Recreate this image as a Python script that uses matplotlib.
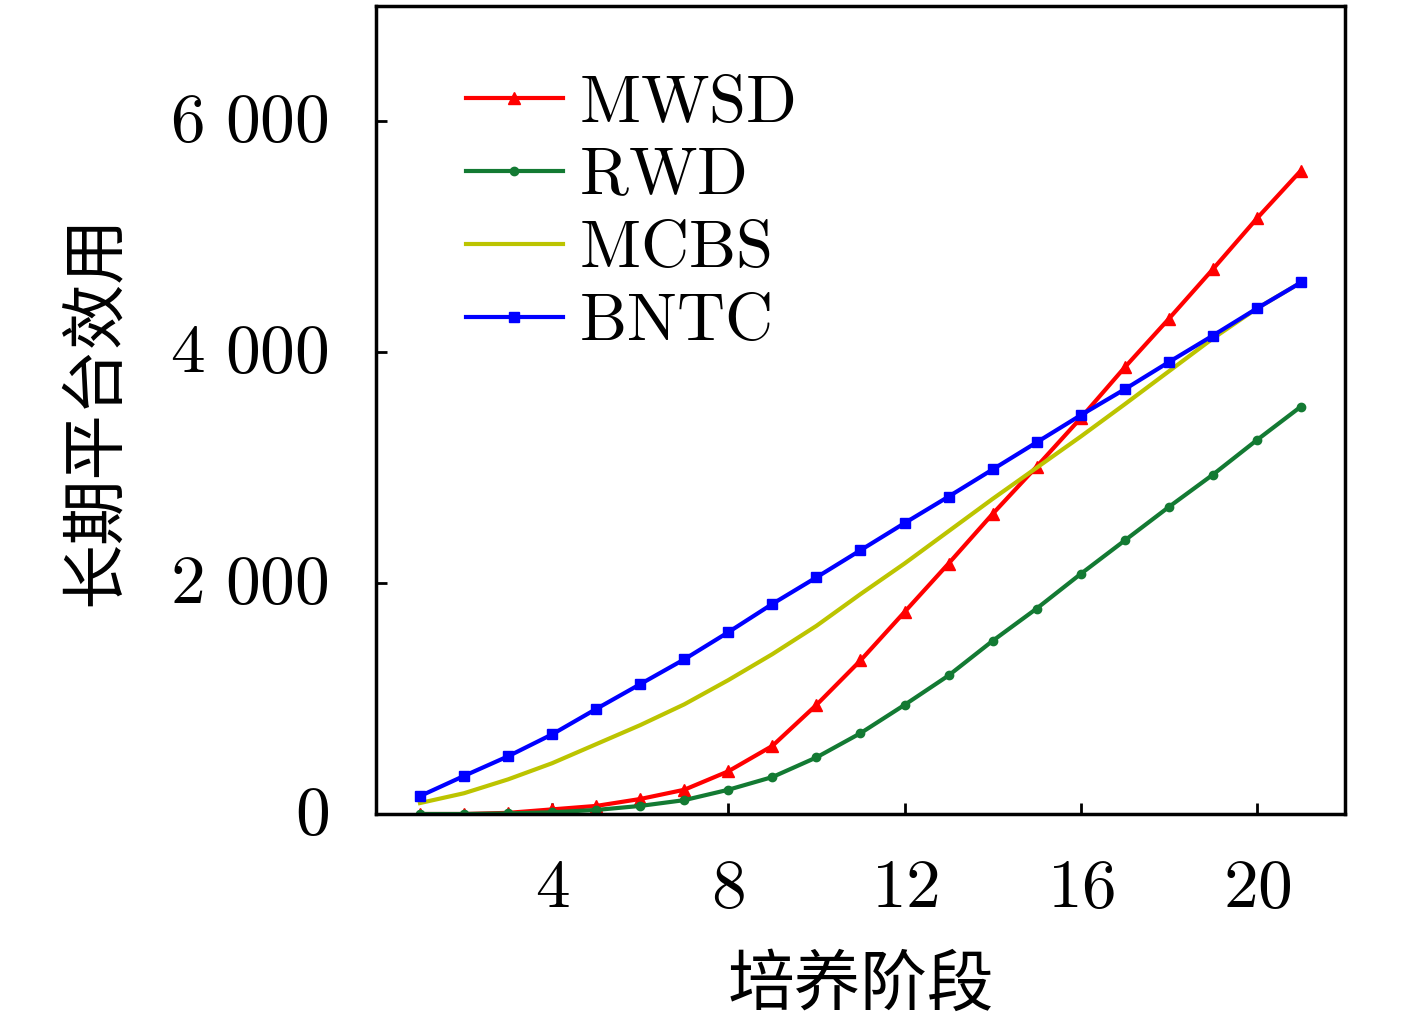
import matplotlib
matplotlib.use("Agg")
import matplotlib.pyplot as plt
import matplotlib.transforms as mtransforms

plt.rcParams['mathtext.fontset'] = 'cm'
plt.rcParams['font.family'] = ['Noto Sans CJK SC', 'DejaVu Sans']

# stages 1..21
stage = list(range(1, 22))

mwsd = [0, 0, 10, 40, 70, 130, 210, 370, 590, 945, 1330, 1750, 2170, 2600,
        3010, 3430, 3870, 4290, 4720, 5160, 5575]
rwd = [0, 0, 5, 15, 35, 70, 120, 210, 320, 490, 700, 945, 1200, 1500,
       1780, 2080, 2370, 2660, 2940, 3240, 3530]
mcbs = [95, 180, 300, 440, 605, 770, 950, 1160, 1385, 1630, 1905, 2170, 2450,
        2730, 3000, 3270, 3550, 3835, 4120, 4380, 4605]
bntc = [155, 330, 500, 690, 910, 1125, 1340, 1575, 1820, 2050, 2285, 2520,
        2750, 2985, 3220, 3455, 3680, 3915, 4145, 4380, 4605]

xticks = [4, 8, 12, 16, 20]
yticks = [0, 2000, 4000, 6000]
ytick_labels = [r'$0$', r'$2\ 000$', r'$4\ 000$', r'$6\ 000$']

fig = plt.figure(figsize=(14.17, 10.23), dpi=100)
ax = fig.add_axes([0.2653, 0.2043, 0.6839, 0.7898])

lw = 3.0
ax.plot(stage, mwsd, color='#ff0000', lw=lw, marker='^', ms=8, label=r'$\mathrm{MWSD}$')
ax.plot(stage, rwd, color='#137a33', lw=lw, marker='o', ms=6, label=r'$\mathrm{RWD}$')
ax.plot(stage, mcbs, color='#bcc400', lw=lw, label=r'$\mathrm{MCBS}$')
ax.plot(stage, bntc, color='#0000ff', lw=lw, marker='s', ms=7, label=r'$\mathrm{BNTC}$')

ax.set_xlim(0, 22)
ax.set_ylim(0, 7000)
ax.set_xticks(xticks)
ax.set_xticklabels([r'$%d$' % t for t in xticks])
ax.set_yticks(yticks)
ax.set_yticklabels(ytick_labels)
ax.tick_params(axis='x', direction='in', length=8, width=2, labelsize=50, pad=27)
ax.tick_params(axis='y', direction='in', length=8, width=2, labelsize=50, pad=34)
shift = mtransforms.ScaledTranslation(0, 8 / 100, fig.dpi_scale_trans)
for lab in ax.get_yticklabels():
    lab.set_transform(lab.get_transform() + shift)
for s in ax.spines.values():
    s.set_linewidth(2.5)

ax.set_xlabel('培养阶段', fontsize=48, labelpad=21)
ax.set_ylabel('长期平台效用', fontsize=47, labelpad=30)

ax.legend(loc='upper left', bbox_to_anchor=(0.093, 0.922), frameon=False,
          fontsize=48, handlelength=1.45, handletextpad=0.25, labelspacing=0.08,
          borderpad=0, borderaxespad=0, numpoints=1)

fig.savefig('out.png', dpi=100)
